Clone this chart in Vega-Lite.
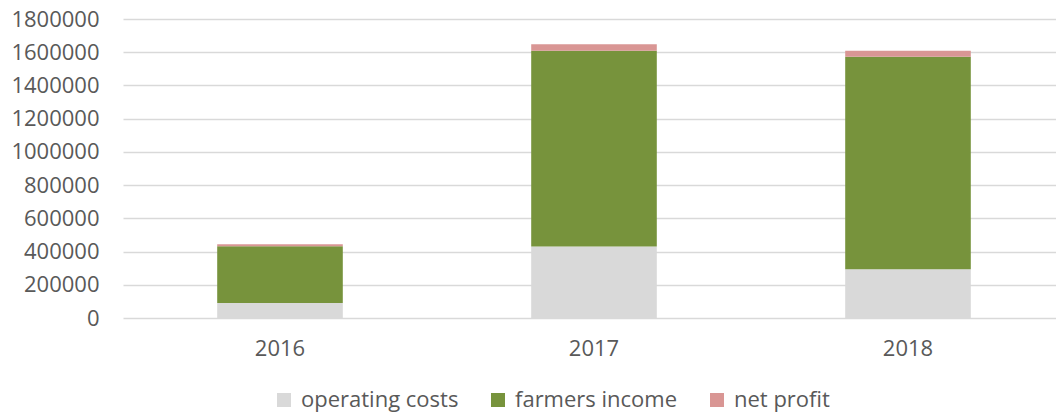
{
  "$schema": "https://vega.github.io/schema/vega-lite/v6.json",
  "width": 942,
  "height": 299,
  "autosize": {"type": "none"},
  "padding": {"left": 123, "top": 19, "right": 0, "bottom": 97},
  "background": "white",
  "config": {
    "view": {"stroke": null},
    "font": "Open Sans",
    "axis": {"labelFont": "Open Sans", "labelColor": "#595959", "labelFontSize": 22}
  },
  "data": {
    "values": [
      {"year": "2016", "category": "operating costs", "ord": 1, "value": 90000},
      {"year": "2016", "category": "farmers income", "ord": 2, "value": 342000},
      {"year": "2016", "category": "net profit", "ord": 3, "value": 12000},
      {"year": "2017", "category": "operating costs", "ord": 1, "value": 430000},
      {"year": "2017", "category": "farmers income", "ord": 2, "value": 1179000},
      {"year": "2017", "category": "net profit", "ord": 3, "value": 39000},
      {"year": "2018", "category": "operating costs", "ord": 1, "value": 293000},
      {"year": "2018", "category": "farmers income", "ord": 2, "value": 1280000},
      {"year": "2018", "category": "net profit", "ord": 3, "value": 36000}
    ]
  },
  "mark": {"type": "bar"},
  "encoding": {
    "x": {
      "field": "year",
      "type": "nominal",
      "scale": {"paddingInner": 0.6, "paddingOuter": 0.3},
      "axis": {"title": null, "labelAngle": 0, "domain": false, "ticks": false, "labelPadding": 20, "grid": false}
    },
    "y": {
      "field": "value",
      "type": "quantitative",
      "stack": "zero",
      "scale": {"domain": [0, 1800000], "nice": false},
      "axis": {"title": null, "values": [0, 200000, 400000, 600000, 800000, 1000000, 1200000, 1400000, 1600000, 1800000], "format": "d", "domain": false, "ticks": false, "labelPadding": 24, "gridColor": "#d9d9d9", "gridWidth": 1.5}
    },
    "color": {
      "field": "category",
      "type": "nominal",
      "scale": {"domain": ["operating costs", "farmers income", "net profit"], "range": ["#D9D9D9", "#77933C", "#D99694"]},
      "legend": {
        "title": null,
        "orient": "none",
        "legendX": 150,
        "legendY": 370,
        "direction": "horizontal",
        "symbolType": "square",
        "symbolSize": 196,
        "symbolStrokeWidth": 0,
        "labelFont": "Open Sans",
        "labelFontSize": 22,
        "labelColor": "#595959",
        "labelLimit": 400,
        "columnPadding": 28,
        "labelOffset": 6
      }
    },
    "order": {"field": "ord", "type": "quantitative"}
  }
}
